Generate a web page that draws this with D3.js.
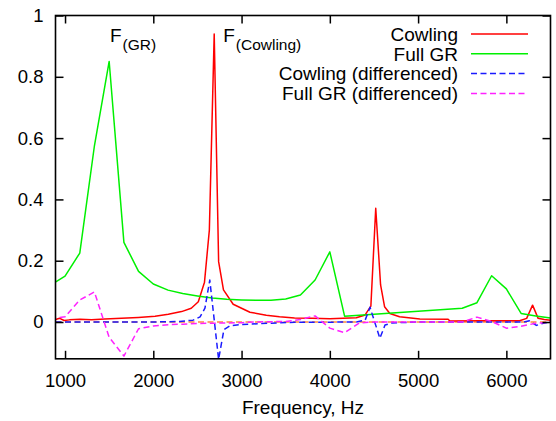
<!DOCTYPE html>
<html>
<head>
<meta charset="utf-8">
<script src="https://cdn.jsdelivr.net/npm/d3@7"></script>
<style>
  html, body { margin: 0; padding: 0; background: #fff; }
  svg { display: block; font-family: "Liberation Sans", Arial, Helvetica, sans-serif; }
</style>
</head>
<body>
<svg id="chart" width="556" height="421"></svg>
<script>
// Spectra: Cowling approximation vs full GR, plus their differenced versions
const cowlingFreq = [892, 940, 990, 1050, 1170, 1300, 1450, 1640, 1830, 2020, 2170, 2320, 2430, 2510, 2580, 2635, 2690, 2740, 2795, 2905, 3095, 3280, 3430, 3600, 3800, 4000, 4300, 4400, 4465, 4520, 4575, 4620, 4680, 4790, 5020, 5340, 5360, 5700, 6150, 6230, 6297, 6360, 6430, 6500];
const cowling     = [0.008, 0.012, 0.005, 0.007, 0.009, 0.007, 0.010, 0.012, 0.015, 0.019, 0.025, 0.034, 0.045, 0.066, 0.13, 0.30, 0.94, 0.197, 0.105, 0.058, 0.032, 0.022, 0.017, 0.013, 0.012, 0.011, 0.014, 0.023, 0.052, 0.371, 0.121, 0.05, 0.028, 0.017, 0.010, 0.009, 0.003, 0.004, 0.004, 0.012, 0.055, 0.012, 0.008, 0.006];

const fullGRFreq = [833, 1000, 1167, 1333, 1500, 1667, 1833, 2000, 2167, 2333, 2500, 2667, 2833, 3000, 3167, 3333, 3500, 3667, 3833, 4000, 4167, 5500, 5667, 5833, 6000, 6167, 6333, 6500];
const fullGR     = [0.12, 0.15, 0.225, 0.575, 0.85, 0.26, 0.165, 0.124, 0.104, 0.093, 0.085, 0.078, 0.074, 0.072, 0.071, 0.071, 0.075, 0.088, 0.137, 0.229, 0.019, 0.045, 0.063, 0.151, 0.108, 0.028, 0.02, 0.013];

const cowlingDiffFreq = [892, 2000, 2300, 2450, 2530, 2585, 2640, 2740, 2800, 2870, 3000, 3300, 3600, 4300, 4400, 4455, 4567, 4625, 4700, 5000, 6200, 6260, 6340, 6430, 6500];
const cowlingDiff     = [0, 0, 0.002, 0.006, 0.017, 0.045, 0.137, -0.122, -0.025, -0.012, -0.008, -0.004, -0.001, 0, 0.006, 0.048, -0.053, -0.01, -0.003, 0, 0, 0.004, -0.011, -0.003, 0];

const fullGRDiffFreq = [833, 1000, 1167, 1333, 1500, 1667, 1833, 2000, 2167, 2333, 2500, 2667, 2833, 3000, 3167, 3333, 3500, 3667, 3833, 4000, 4167, 4333, 4500, 5333, 5500, 5667, 5833, 6000, 6167, 6333, 6500];
const fullGRDiff     = [0.01, 0.017, 0.072, 0.098, -0.05, -0.111, -0.022, -0.013, -0.009, -0.007, -0.005, -0.004, -0.003, -0.002, 0.0, 0.001, 0.002, 0.008, 0.02, -0.02, -0.035, -0.003, 0, 0, 0, 0.016, 0.002, -0.02, -0.014, -0.004, 0];

const xTicks = [1000, 2000, 3000, 4000, 5000, 6000];
const xTickLabels = ["1000", "2000", "3000", "4000", "5000", "6000"];
const yTicks = [0, 0.2, 0.4, 0.6, 0.8, 1];
const yTickLabels = ["0", "0.2", "0.4", "0.6", "0.8", "1"];

const seriesNames = ["Cowling", "Full GR", "Cowling (differenced)", "Full GR (differenced)"];
const xTitle = "Frequency, Hz";

const svg = d3.select("#chart");
const x = d3.scaleLinear().domain([892, 6500]).range([55.5, 550.5]);
const y = d3.scaleLinear().domain([-0.12, 1]).range([358.8, 15.5]);
const [x0, x1] = x.range();
const [yb, yt] = y.range();

const series = [
  { name: seriesNames[0], f: cowlingFreq, v: cowling, color: "#ff0000", dash: null },
  { name: seriesNames[1], f: fullGRFreq, v: fullGR, color: "#00f000", dash: null },
  { name: seriesNames[2], f: cowlingDiffFreq, v: cowlingDiff, color: "#1a1aff", dash: "6,3.5" },
  { name: seriesNames[3], f: fullGRDiffFreq, v: fullGRDiff, color: "#ff22ff", dash: "6,3.5" }
];

svg.append("defs").append("clipPath").attr("id", "plotClip")
  .append("rect").attr("x", x0).attr("y", yt).attr("width", x1 - x0).attr("height", yb - yt);

const plot = svg.append("g").attr("clip-path", "url(#plotClip)");

// dashed zero axis
plot.append("line")
  .attr("x1", x0).attr("x2", x1)
  .attr("y1", y(0)).attr("y2", y(0))
  .attr("stroke", "#ff8a3c").attr("stroke-width", 1.4)
  .attr("stroke-dasharray", "6,3.5");

const line = d3.line().x(d => x(d[0])).y(d => y(d[1]));
series.forEach(s => {
  plot.append("path")
    .datum(s.f.map((f, i) => [f, s.v[i]]))
    .attr("d", line)
    .attr("fill", "none")
    .attr("stroke", s.color)
    .attr("stroke-width", 1.5)
    .attr("stroke-linejoin", "round")
    .attr("stroke-dasharray", s.dash);
});

// axes with inward ticks on all four sides
const tickLen = 8;
const fontSize = 18.5;
const gB = svg.append("g").attr("transform", `translate(0,${yb})`)
  .call(d3.axisBottom(x).tickValues(xTicks).tickFormat((d, i) => xTickLabels[i]).tickSize(-tickLen).tickPadding(15));
const gT = svg.append("g").attr("transform", `translate(0,${yt})`)
  .call(d3.axisTop(x).tickValues(xTicks).tickFormat("").tickSize(-tickLen));
const gL = svg.append("g").attr("transform", `translate(${x0},0)`)
  .call(d3.axisLeft(y).tickValues(yTicks).tickFormat((d, i) => yTickLabels[i]).tickSize(-tickLen).tickPadding(12));
const gR = svg.append("g").attr("transform", `translate(${x1},0)`)
  .call(d3.axisRight(y).tickValues(yTicks).tickFormat("").tickSize(-tickLen));

[gB, gT, gL, gR].forEach(g => {
  g.select(".domain").remove();
  g.selectAll(".tick line").attr("stroke", "#000").attr("stroke-width", 1.5);
  g.selectAll(".tick text").attr("fill", "#000")
    .style("font-family", "'Liberation Sans', Arial, Helvetica, sans-serif")
    .style("font-size", fontSize + "px");
});

svg.append("rect")
  .attr("x", x0).attr("y", yt).attr("width", x1 - x0).attr("height", yb - yt)
  .attr("fill", "none").attr("stroke", "#000").attr("stroke-width", 1.6);

// axis title
svg.append("text")
  .attr("x", (x0 + x1) / 2).attr("y", 413.5)
  .attr("text-anchor", "middle")
  .style("font-size", "19px")
  .text(xTitle);

// peak annotations
const notes = [
  { main: "F", sub: "(GR)", x: 110, y: 42 },
  { main: "F", sub: "(Cowling)", x: 223.3, y: 42 }
];
notes.forEach(n => {
  svg.append("text").attr("x", n.x).attr("y", n.y).style("font-size", "19px").text(n.main);
  svg.append("text").attr("x", n.x + 12.5).attr("y", n.y + 7.5).style("font-size", "15.5px").text(n.sub);
});

// legend
const legend = svg.append("g");
series.forEach((s, i) => {
  const ly = 34 + i * 19.8;
  legend.append("text")
    .attr("x", 458).attr("y", ly + 6.8)
    .attr("text-anchor", "end")
    .style("font-size", "19px")
    .text(s.name);
  legend.append("line")
    .attr("x1", 471).attr("x2", 528)
    .attr("y1", ly).attr("y2", ly)
    .attr("stroke", s.color).attr("stroke-width", 1.5)
    .attr("stroke-dasharray", s.dash);
});
</script>
</body>
</html>
